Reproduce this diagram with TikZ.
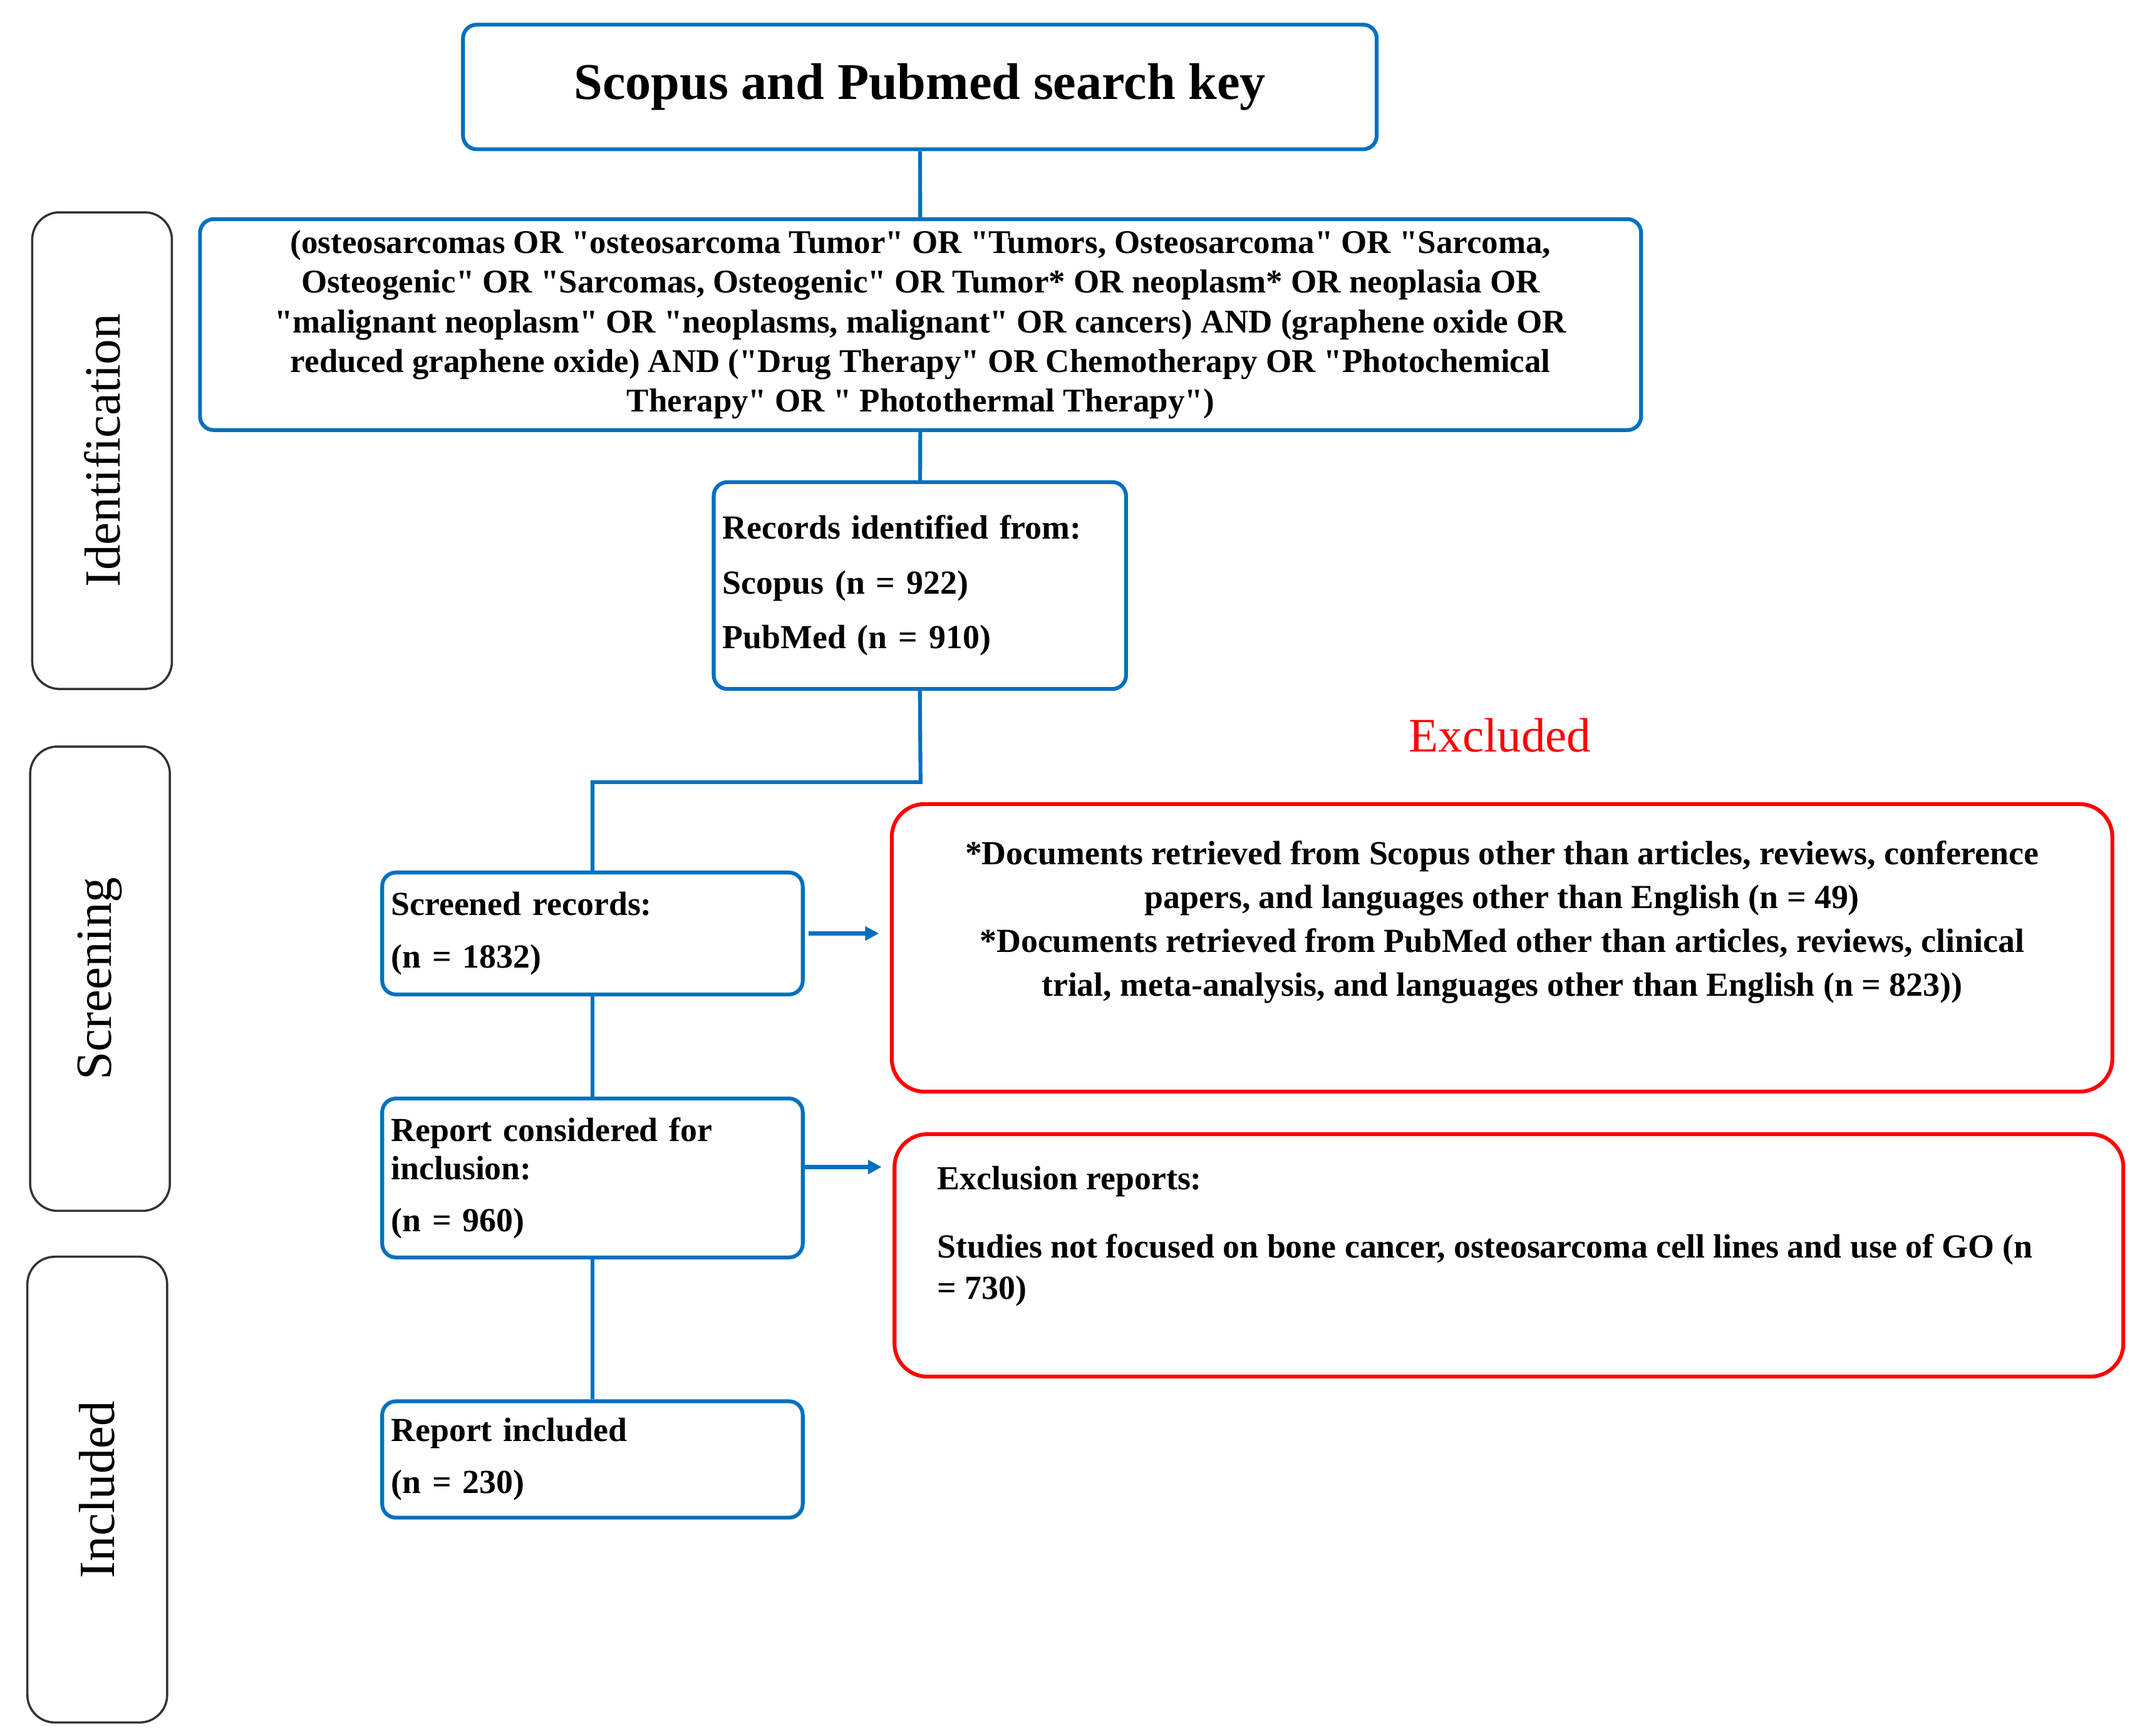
\documentclass[tikz,border=0pt]{standalone}
\usepackage{fontspec}
\setmainfont{Liberation Serif}
\usetikzlibrary{arrows.meta}
\definecolor{bl}{RGB}{0,112,192}
\newcommand\dq{\XeTeXglyph\XeTeXcharglyph"22\relax}
\begin{document}
\begin{tikzpicture}[x=0.5pt,y=-0.5pt,
 box/.style={draw=bl,line width=1.4pt,rounded corners=5pt,inner sep=0pt,font=\bfseries\fontsize{12.3}{14.5}\selectfont},
 rbox/.style={draw=red,line width=1.4pt,rounded corners=12pt,inner sep=0pt},
 side/.style={draw=black!80,line width=0.8pt,rounded corners=10pt,minimum width=51pt},
 stext/.style={rotate=90,font=\fontsize{18.5}{20}\selectfont},
 conn/.style={draw=bl,line width=1.4pt},
 arr/.style={conn,-{Triangle[length=5pt,width=5pt]}}]
\useasboundingbox (0,0) rectangle (1560,1267);
\node[box,minimum width=333.5pt,minimum height=45.5pt,font=\bfseries\fontsize{18.8}{20}\selectfont] (title) at (671.5,63.5) {Scopus and Pubmed search key};
\node[box,minimum width=526pt,minimum height=77pt,align=center,font=\bfseries\fontsize{12.1}{14.5}\selectfont] (query) at (672,237) {(osteosarcomas OR \dq osteosarcoma Tumor\dq{} OR \dq Tumors, Osteosarcoma\dq{} OR \dq Sarcoma,\\Osteogenic\dq{} OR \dq Sarcomas, Osteogenic\dq{} OR Tumor* OR neoplasm* OR neoplasia OR\\\dq malignant neoplasm\dq{} OR \dq neoplasms, malignant\dq{} OR cancers) AND (graphene oxide OR\\reduced graphene oxide) AND (\dq Drug Therapy\dq{} OR Chemotherapy OR \dq Photochemical\\Therapy\dq{} OR \dq{} Photothermal Therapy\dq)};
\node[box,minimum width=150.5pt,minimum height=75.5pt,align=left,text width=144pt,font=\bfseries\fontsize{12.3}{20}\selectfont] (rec) at (671.5,427.5) {Records identified from:\\Scopus (n = 922)\\PubMed (n = 910)};
\node[box,minimum width=153.5pt,minimum height=44.5pt,align=left,text width=147pt,font=\bfseries\fontsize{12.3}{19}\selectfont] (scr) at (432.5,681.5) {Screened records:\\(n = 1832)};
\node[box,minimum width=153.5pt,minimum height=58pt,align=left,text width=147pt,font=\bfseries\fontsize{12.3}{14}\selectfont] (con) at (432.5,860) {Report considered for\\inclusion:\\[5pt](n = 960)};
\node[box,minimum width=153.5pt,minimum height=42.5pt,align=left,text width=147pt,font=\bfseries\fontsize{12.3}{19}\selectfont] (inc) at (432.5,1065.5) {Report included\\(n = 230)};
\node[text=red,font=\fontsize{17.6}{19}\selectfont] (exl) at (1095,537) {Excluded};
\node[rbox,minimum width=445.5pt,minimum height=105pt] (r1) at (1096.5,692) {};
\node[font=\bfseries\fontsize{12.3}{16}\selectfont,align=center,anchor=north] (r1t) at (1096.5,607) {*Documents retrieved from Scopus other than articles, reviews, conference\\papers, and languages other than English (n = 49)\\*Documents retrieved from PubMed other than articles, reviews, clinical\\trial, meta-analysis, and languages other than English (n = 823))};
\node[rbox,minimum width=448.5pt,minimum height=88.5pt] (r2) at (1101.5,916.5) {};
\node[font=\bfseries\fontsize{12.3}{15}\selectfont,align=left,anchor=north west,inner sep=0pt] (r2t) at (684,851) {Exclusion reports:\\[10pt]Studies not focused on bone cancer, osteosarcoma cell lines and use of GO (n\\= 730)};
\node[side,minimum height=174pt] (s1) at (74.5,329) {};
\node[stext] at (s1) {Identification};
\node[side,minimum height=169.5pt] (s2) at (73,714.5) {};
\node[stext] at (s2) {Screening};
\node[side,minimum height=170pt] (s3) at (71,1087.5) {};
\node[stext] at (s3) {Included};
\coordinate (k1) at (672,571);
\coordinate (k2) at (432.5,571);
\draw[conn] (title) -- (query);
\draw[conn] (query) -- (rec);
\draw[conn] (rec.south) -- (k1) -- (k2) -- (scr.north);
\draw[conn] (scr) -- (con);
\draw[conn] (con) -- (inc);
\draw[arr,shorten <=1.5pt,shorten >=4pt] (scr.east) -- (scr.east -| r1.west);
\draw[arr,shorten >=4pt] (con.east |- 0,852) -- (r2.west |- 0,852);
\end{tikzpicture}
\end{document}
